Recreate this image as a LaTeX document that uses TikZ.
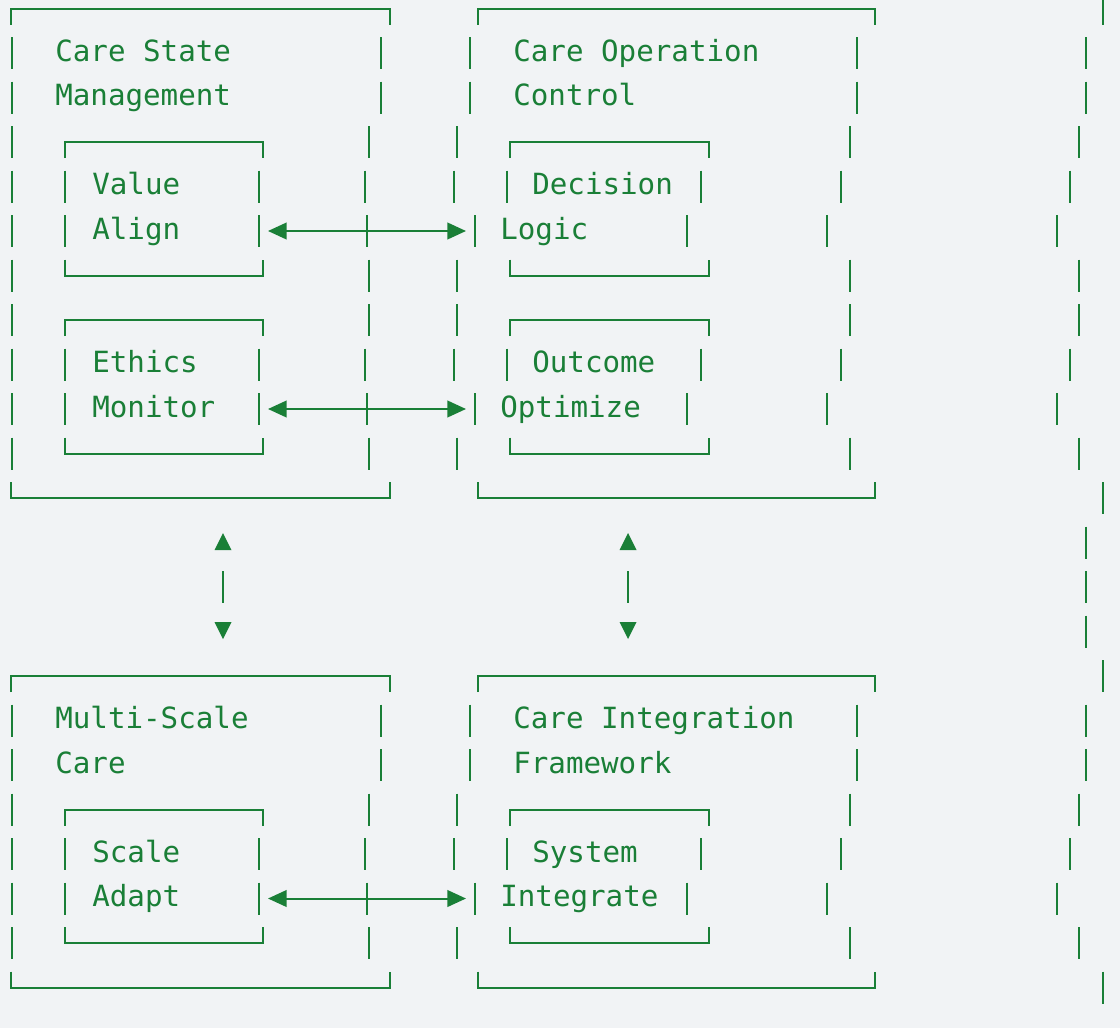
\documentclass[tikz,border=0pt]{standalone}
\usepackage{fontspec}
\setmonofont{DejaVu Sans Mono}
\usetikzlibrary{arrows.meta}
\definecolor{gr}{RGB}{26,127,55}
\definecolor{bgc}{RGB}{241,243,245}
\tikzset{
  ln/.style={draw=gr, line width=1.5pt},
  lbl/.style={anchor=base west, inner sep=0pt, text=gr, font=\ttfamily\fontsize{21.9}{26}\selectfont},
  biarrow/.style={draw=gr, line width=1.5pt, {Triangle[length=14pt,width=12.5pt]}-{Triangle[length=14pt,width=12.5pt]}},
  tri/.style={fill=gr}
}
\newcommand\mybar[2]{\draw[ln] (#1,{8.5+44.5*(#2)-16}) -- (#1,{8.5+44.5*(#2)+16});}
\newcommand\mytop[3]{\draw[ln] (#1,{8.5+44.5*(#3)+16}) -- (#1,{8.5+44.5*(#3)}) -- (#2,{8.5+44.5*(#3)}) -- (#2,{8.5+44.5*(#3)+16});}
\newcommand\mybot[3]{\draw[ln] (#1,{8.5+44.5*(#3)-16}) -- (#1,{8.5+44.5*(#3)}) -- (#2,{8.5+44.5*(#3)}) -- (#2,{8.5+44.5*(#3)-16});}
\newcommand\mytxt[4]{\node[lbl] (#1) at (#2,{8.5+44.5*(#3)+8}) {#4};}
\begin{document}
\begin{tikzpicture}[x=0.75pt,y=-0.75pt]
\fill[bgc] (0,0) rectangle (1120,1028);
\useasboundingbox (0,0) rectangle (1120,1028);
\begin{scope}
\clip (0,0) rectangle (1120,1028);
% vertical bars, row by row
\foreach \r in {1,2,16,17} {\foreach \x in {12,381,470,857,1086} {\mybar{\x}{\r}}}
\foreach \r in {3,6,7,10,18,21} {\foreach \x in {12,369,457,850,1079} {\mybar{\x}{\r}}}
\foreach \r in {4,8,19} {\foreach \x in {12,65,258.6,365,453.6,506.5,701,841,1070} {\mybar{\x}{\r}}}
\foreach \r in {5,9,20} {\foreach \x in {12,65,259,367,474.5,687,827,1057} {\mybar{\x}{\r}}}
\foreach \r in {0,11,15,22} {\mybar{1103}{\r}}
\foreach \r in {12,13,14} {\mybar{1086}{\r}}
% outer boxes
\foreach \r in {0,15} {\mytop{11}{389.5}{\r} \mytop{478}{874.5}{\r}}
\foreach \r in {11,22} {\mybot{11}{390}{\r} \mybot{477.5}{875}{\r}}
% inner boxes
\foreach \r in {3,7,18} {\mytop{65}{263}{\r} \mytop{510}{708.5}{\r}}
\foreach \r in {6,10,21} {\mybot{65}{263}{\r} \mybot{510}{708.5}{\r}}
\end{scope}
% titles
\mytxt{csm1}{55}{1}{Care State}
\mytxt{csm2}{55}{2}{Management}
\mytxt{coc1}{513}{1}{Care Operation}
\mytxt{coc2}{513}{2}{Control}
\mytxt{msc1}{55}{16}{Multi-Scale}
\mytxt{msc2}{55}{17}{Care}
\mytxt{cif1}{513}{16}{Care Integration}
\mytxt{cif2}{513}{17}{Framework}
% inner labels
\mytxt{va1}{92}{4}{Value}
\mytxt{va2}{92}{5}{Align}
\mytxt{dl1}{532}{4}{Decision}
\mytxt{dl2}{500}{5}{Logic}
\mytxt{em1}{92}{8}{Ethics}
\mytxt{em2}{92}{9}{Monitor}
\mytxt{oo1}{532}{8}{Outcome}
\mytxt{oo2}{500}{9}{Optimize}
\mytxt{sa1}{92}{19}{Scale}
\mytxt{sa2}{92}{20}{Adapt}
\mytxt{si1}{532}{19}{System}
\mytxt{si2}{500}{20}{Integrate}
% horizontal connectors
\coordinate (vaR) at (268,{8.5+44.5*5});
\coordinate (dlL) at (466,{8.5+44.5*5});
\coordinate (emR) at (268,{8.5+44.5*9});
\coordinate (ooL) at (466,{8.5+44.5*9});
\coordinate (saR) at (268,{8.5+44.5*20});
\coordinate (siL) at (466,{8.5+44.5*20});
\draw[biarrow] (vaR) -- (dlL);
\draw[biarrow] (emR) -- (ooL);
\draw[biarrow] (saR) -- (siL);
% vertical connectors (up/down triangles with bar)
\foreach \x/\n in {223/l,628/r} {
  \coordinate (up\n) at (\x,533);
  \coordinate (dn\n) at (\x,639);
  \fill[tri] (up\n) -- ++(-8.5,17) -- ++(17,0) -- cycle;
  \fill[tri] (dn\n) -- ++(-8.5,-17) -- ++(17,0) -- cycle;
  \draw[ln] (\x,571) -- (\x,603);
}
\end{tikzpicture}
\end{document}
